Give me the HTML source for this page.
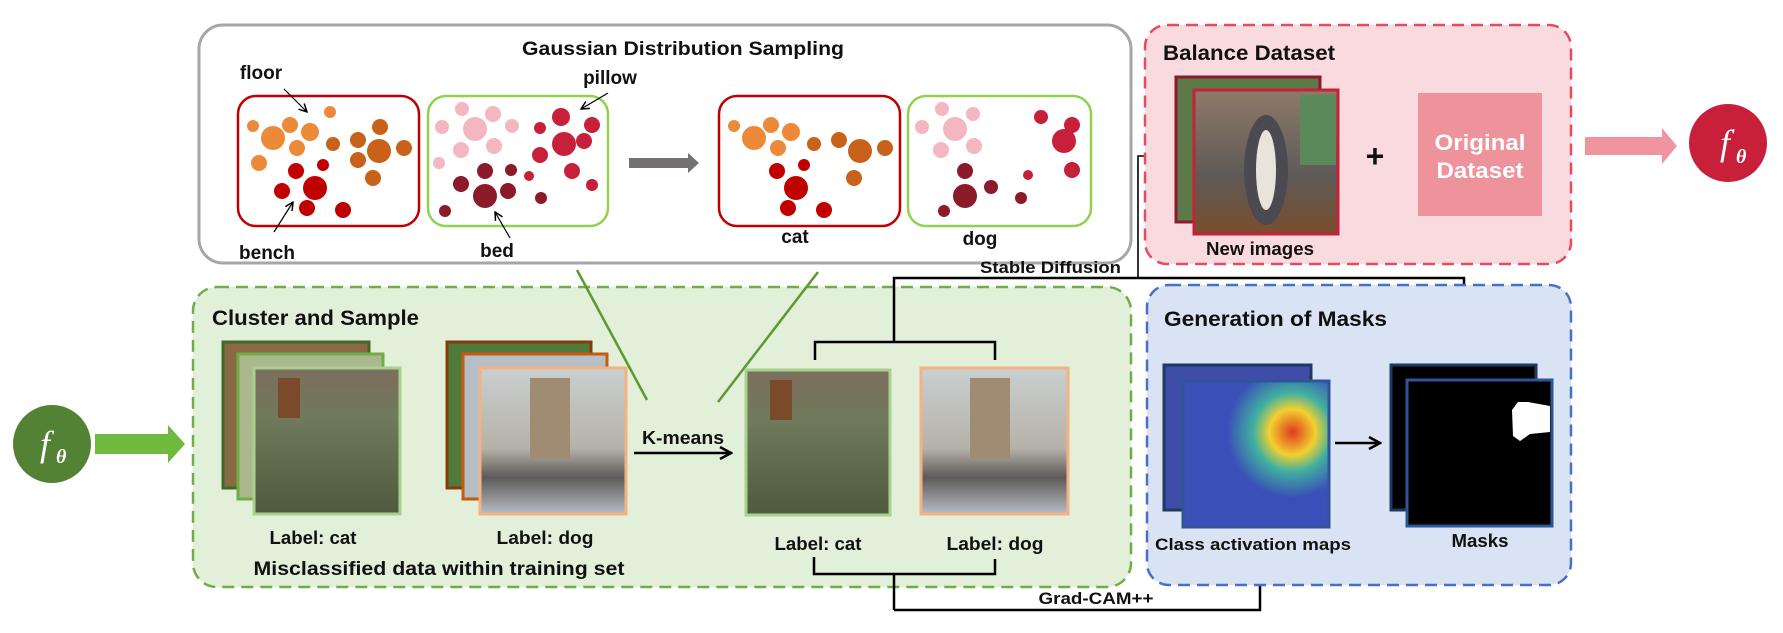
<!DOCTYPE html>
<html><head><meta charset="utf-8"><style>
html,body{margin:0;padding:0;background:#fff;}
svg{display:block;}
text{font-family:"Liberation Sans",Arial,sans-serif;font-weight:bold;fill:#111;}
</style></head><body>
<svg width="1783" height="633" viewBox="0 0 1783 633" xmlns="http://www.w3.org/2000/svg">
<defs>
<marker id="ah" markerWidth="10" markerHeight="10" refX="9" refY="5" orient="auto" markerUnits="userSpaceOnUse"><path d="M1,1 L9,5 L1,9" fill="none" stroke="#000" stroke-width="1.5"/></marker>
<marker id="ah2" markerWidth="14" markerHeight="14" refX="12" refY="7" orient="auto" markerUnits="userSpaceOnUse"><path d="M1,1 L12,7 L1,13" fill="none" stroke="#000" stroke-width="2.5"/></marker>
<linearGradient id="gcat" x1="0" y1="0" x2="0" y2="1"><stop offset="0" stop-color="#7d6e5e"/><stop offset="0.35" stop-color="#6f7a5a"/><stop offset="1" stop-color="#4f5a3e"/></linearGradient>
<linearGradient id="gbed" x1="0" y1="0" x2="0" y2="1"><stop offset="0" stop-color="#c9cfd0"/><stop offset="0.55" stop-color="#b6b2a8"/><stop offset="0.75" stop-color="#5d5a58"/><stop offset="1" stop-color="#b9bcc4"/></linearGradient>
<linearGradient id="gnew" x1="0" y1="0" x2="0" y2="1"><stop offset="0" stop-color="#8e7a68"/><stop offset="0.6" stop-color="#5e5a58"/><stop offset="1" stop-color="#7a4e2c"/></linearGradient>
<radialGradient id="gcam" cx="0.75" cy="0.35" r="0.45"><stop offset="0" stop-color="#e03a20"/><stop offset="0.35" stop-color="#f2d030"/><stop offset="0.6" stop-color="#40b0a0"/><stop offset="1" stop-color="#3a4fb8"/></radialGradient>
</defs>

<rect x="199" y="25" width="932" height="238" rx="24" fill="#fff" stroke="#a6a6a6" stroke-width="3"/>
<text x="683" y="55" font-size="19" text-anchor="middle" textLength="322" lengthAdjust="spacingAndGlyphs">Gaussian Distribution Sampling</text>
<rect x="238" y="96" width="181" height="130" rx="18" fill="#fff" stroke="#c00000" stroke-width="2.5"/>
<rect x="428" y="96" width="180" height="130" rx="18" fill="#fff" stroke="#92d050" stroke-width="2.5"/>
<rect x="719" y="96" width="181" height="130" rx="18" fill="#fff" stroke="#c00000" stroke-width="2.5"/>
<rect x="908" y="96" width="183" height="130" rx="18" fill="#fff" stroke="#92d050" stroke-width="2.5"/>
<polygon points="629,158 688,158 688,153 699,163 688,173 688,168 629,168" fill="#767171"/>

<g>
<g fill="#ed8a3a"><circle cx="253" cy="126" r="6"/><circle cx="273" cy="138" r="12"/><circle cx="290" cy="125" r="8"/><circle cx="310" cy="132" r="9"/><circle cx="297" cy="148" r="8"/><circle cx="259" cy="163" r="8"/><circle cx="330" cy="112" r="6"/></g>
<g fill="#c8621a"><circle cx="333" cy="144" r="7"/><circle cx="358" cy="140" r="8"/><circle cx="380" cy="127" r="8"/><circle cx="379" cy="151" r="12"/><circle cx="404" cy="148" r="8"/><circle cx="358" cy="160" r="8"/><circle cx="373" cy="178" r="8"/></g>
<g fill="#c00000"><circle cx="296" cy="171" r="8"/><circle cx="323" cy="165" r="6"/><circle cx="315" cy="188" r="12"/><circle cx="282" cy="191" r="8"/><circle cx="307" cy="208" r="8"/><circle cx="343" cy="210" r="8"/></g>
</g>
<g transform="translate(481,0)">
<g fill="#ed8a3a"><circle cx="253" cy="126" r="6"/><circle cx="273" cy="138" r="12"/><circle cx="290" cy="125" r="8"/><circle cx="310" cy="132" r="9"/><circle cx="297" cy="148" r="8"/></g>
<g fill="#c8621a"><circle cx="333" cy="144" r="7"/><circle cx="358" cy="140" r="8"/><circle cx="379" cy="151" r="12"/><circle cx="404" cy="148" r="8"/><circle cx="373" cy="178" r="8"/></g>
<g fill="#c00000"><circle cx="296" cy="171" r="8"/><circle cx="323" cy="165" r="6"/><circle cx="315" cy="188" r="12"/><circle cx="307" cy="208" r="8"/><circle cx="343" cy="210" r="8"/></g>
</g>
<g>
<g fill="#f4b6c0"><circle cx="462" cy="109" r="7"/><circle cx="442" cy="127" r="7"/><circle cx="475" cy="129" r="12"/><circle cx="493" cy="114" r="8"/><circle cx="512" cy="126" r="7"/><circle cx="461" cy="150" r="8"/><circle cx="494" cy="146" r="8"/><circle cx="439" cy="163" r="6"/></g>
<g fill="#c8203a"><circle cx="561" cy="117" r="9"/><circle cx="592" cy="125" r="8"/><circle cx="540" cy="128" r="6"/><circle cx="564" cy="144" r="12"/><circle cx="584" cy="141" r="8"/><circle cx="540" cy="155" r="8"/><circle cx="572" cy="171" r="8"/><circle cx="529" cy="176" r="5"/><circle cx="592" cy="185" r="6"/></g>
<g fill="#8b1a2a"><circle cx="485" cy="171" r="8"/><circle cx="511" cy="170" r="6"/><circle cx="461" cy="184" r="8"/><circle cx="485" cy="196" r="12"/><circle cx="508" cy="191" r="8"/><circle cx="541" cy="198" r="6"/><circle cx="445" cy="211" r="6"/></g>
</g>
<g transform="translate(480,0)">
<g fill="#f4b6c0"><circle cx="462" cy="109" r="7"/><circle cx="442" cy="127" r="7"/><circle cx="475" cy="129" r="12"/><circle cx="493" cy="114" r="7"/><circle cx="461" cy="150" r="8"/><circle cx="494" cy="146" r="8"/></g>
<g fill="#c8203a"><circle cx="561" cy="117" r="7"/><circle cx="592" cy="125" r="8"/><circle cx="584" cy="141" r="12"/><circle cx="592" cy="170" r="8"/><circle cx="548" cy="175" r="5"/></g>
<g fill="#8b1a2a"><circle cx="485" cy="171" r="8"/><circle cx="511" cy="187" r="7"/><circle cx="485" cy="196" r="12"/><circle cx="541" cy="198" r="6"/><circle cx="464" cy="211" r="6"/></g>
</g>

<g stroke="#000" stroke-width="1.2" fill="none" marker-end="url(#ah)">
<line x1="284" y1="89" x2="307" y2="112"/>
<line x1="608" y1="93" x2="581" y2="109"/>
<line x1="274" y1="232" x2="293" y2="202"/>
<line x1="510" y1="238" x2="495" y2="212"/>
</g>
<text x="261" y="79" font-size="19" text-anchor="middle">floor</text>
<text x="610" y="84" font-size="19" text-anchor="middle">pillow</text>
<text x="267" y="259" font-size="19" text-anchor="middle">bench</text>
<text x="497" y="257" font-size="19" text-anchor="middle">bed</text>
<text x="795" y="243" font-size="19" text-anchor="middle">cat</text>
<text x="980" y="245" font-size="19" text-anchor="middle">dog</text>

<rect x="193" y="287" width="938" height="300" rx="24" fill="#e2efd9" stroke="#70ad47" stroke-width="2.5" stroke-dasharray="12,7"/>
<text x="212" y="325" font-size="21" textLength="207" lengthAdjust="spacingAndGlyphs">Cluster and Sample</text>

<rect x="223" y="342" width="146" height="146" fill="#8a6a44" stroke="#3f6a28" stroke-width="3"/>
<rect x="238" y="354" width="145" height="145" fill="#aab88e" stroke="#70ad47" stroke-width="3"/>
<rect x="254" y="368" width="146" height="146" fill="url(#gcat)" stroke="#a9d18e" stroke-width="3"/>
<rect x="447" y="342" width="144" height="146" fill="#4f7a3a" stroke="#843c0c" stroke-width="3"/>
<rect x="463" y="354" width="144" height="145" fill="#b7bfc6" stroke="#c55a11" stroke-width="3"/>
<rect x="480" y="368" width="146" height="146" fill="url(#gbed)" stroke="#f4b183" stroke-width="3"/>
<rect x="530" y="378" width="40" height="80" fill="#a08c72"/>
<rect x="278" y="378" width="22" height="40" fill="#7a4a2a"/>
<text x="313" y="544" font-size="18" text-anchor="middle" textLength="87" lengthAdjust="spacingAndGlyphs">Label: cat</text>
<text x="545" y="544" font-size="18" text-anchor="middle" textLength="97" lengthAdjust="spacingAndGlyphs">Label: dog</text>
<text x="439" y="575" font-size="19" text-anchor="middle" textLength="371" lengthAdjust="spacingAndGlyphs">Misclassified data within training set</text>

<line x1="577" y1="270" x2="647" y2="400" stroke="#5a9a30" stroke-width="2.5"/>
<line x1="818" y1="272" x2="718" y2="402" stroke="#5a9a30" stroke-width="2.5"/>
<text x="683" y="444" font-size="18" text-anchor="middle" textLength="82" lengthAdjust="spacingAndGlyphs">K-means</text>
<line x1="634" y1="453" x2="731" y2="453" stroke="#000" stroke-width="2.5" marker-end="url(#ah2)"/>

<rect x="746" y="370" width="144" height="145" fill="url(#gcat)" stroke="#a9d18e" stroke-width="3"/>
<rect x="770" y="380" width="22" height="40" fill="#7a4a2a"/>
<rect x="921" y="368" width="147" height="146" fill="url(#gbed)" stroke="#f4b183" stroke-width="3"/>
<rect x="970" y="378" width="40" height="80" fill="#a08c72"/>
<text x="818" y="550" font-size="18" text-anchor="middle" textLength="87" lengthAdjust="spacingAndGlyphs">Label: cat</text>
<text x="995" y="550" font-size="18" text-anchor="middle" textLength="97" lengthAdjust="spacingAndGlyphs">Label: dog</text>

<g fill="none" stroke="#000" stroke-width="2.5">
<polyline points="815,360 815,342 995,342 995,360"/>
<polyline points="894,342 894,278 1464,278 1464,352"/>
<polyline points="814,557 814,574 995,574 995,559"/>
<line x1="894" y1="574" x2="894" y2="610"/>
<polyline points="894,610 1260,610 1260,562" marker-end="url(#ah)"/>
</g>
<polyline points="1138,277 1138,156 1166,156" fill="none" stroke="#000" stroke-width="1.6" marker-end="url(#ah)"/>
<text x="980" y="273" font-size="17" textLength="141" lengthAdjust="spacingAndGlyphs">Stable Diffusion</text>
<text x="1096" y="604" font-size="17" text-anchor="middle" textLength="115" lengthAdjust="spacingAndGlyphs">Grad-CAM++</text>

<rect x="1145" y="25" width="426" height="239" rx="22" fill="#f9dadf" stroke="#e84a5f" stroke-width="2.5" stroke-dasharray="12,7"/>
<text x="1163" y="60" font-size="21" textLength="172" lengthAdjust="spacingAndGlyphs">Balance Dataset</text>
<rect x="1176" y="77" width="144" height="145" fill="#5b7a48" stroke="#8b1a2a" stroke-width="3"/>
<rect x="1194" y="90" width="144" height="144" fill="url(#gnew)" stroke="#c8203a" stroke-width="3"/>
<ellipse cx="1266" cy="170" rx="22" ry="55" fill="#4a4a50"/>
<ellipse cx="1266" cy="170" rx="10" ry="40" fill="#e8e4dc"/>
<rect x="1300" y="95" width="36" height="70" fill="#5a8a5a"/>
<text x="1260" y="255" font-size="18" text-anchor="middle" textLength="108" lengthAdjust="spacingAndGlyphs">New images</text>
<text x="1375" y="167" font-size="32" text-anchor="middle">+</text>
<rect x="1418" y="93" width="124" height="123" fill="#ee929b"/>
<text x="1480" y="150" font-size="22" text-anchor="middle" style="fill:#fff" textLength="91" lengthAdjust="spacingAndGlyphs">Original</text>
<text x="1480" y="178" font-size="22" text-anchor="middle" style="fill:#fff" textLength="87" lengthAdjust="spacingAndGlyphs">Dataset</text>
<polygon points="1585,137 1662,137 1662,128 1677,146 1662,164 1662,155 1585,155" fill="#f0959f"/>
<circle cx="1728" cy="143" r="39" fill="#c8203a"/>
<text x="1720" y="155" font-size="36" style="fill:#fff;font-family:'Liberation Serif',serif;font-style:italic;font-weight:normal">f</text>
<text x="1732" y="141" font-size="18" style="fill:#fff;font-family:'Liberation Serif',serif;font-weight:normal">'</text>
<text x="1736" y="163" font-size="20" style="fill:#fff;font-family:'Liberation Serif',serif;font-style:italic">θ</text>

<rect x="1147" y="285" width="424" height="300" rx="22" fill="#dae3f3" stroke="#4472c4" stroke-width="2.5" stroke-dasharray="12,7"/>
<text x="1164" y="326" font-size="21" textLength="223" lengthAdjust="spacingAndGlyphs">Generation of Masks</text>
<rect x="1164" y="365" width="147" height="145" fill="#3e4ea8" stroke="#1f3864" stroke-width="3"/>
<rect x="1183" y="381" width="146" height="146" fill="url(#gcam)" stroke="#2f5597" stroke-width="3"/>
<line x1="1335" y1="443" x2="1380" y2="443" stroke="#000" stroke-width="2.5" marker-end="url(#ah2)"/>
<rect x="1391" y="365" width="145" height="145" fill="#000" stroke="#1f3864" stroke-width="3"/>
<rect x="1407" y="380" width="145" height="146" fill="#000" stroke="#2f5597" stroke-width="3"/>
<path d="M1518,402 L1528,402 L1550,406 L1550,432 L1530,434 L1520,441 L1513,436 L1512,410 Z" fill="#fff"/>
<text x="1253" y="550" font-size="17" text-anchor="middle" textLength="196" lengthAdjust="spacingAndGlyphs">Class activation maps</text>
<text x="1480" y="547" font-size="18" text-anchor="middle" textLength="57" lengthAdjust="spacingAndGlyphs">Masks</text>

<circle cx="52" cy="444" r="39" fill="#548235"/>
<text x="40" y="456" font-size="36" style="fill:#fff;font-family:'Liberation Serif',serif;font-style:italic;font-weight:normal">f</text>
<text x="56" y="463" font-size="20" style="fill:#fff;font-family:'Liberation Serif',serif;font-style:italic">θ</text>
<polygon points="95,434 168,434 168,425 185,444 168,463 168,454 95,454" fill="#70b93f"/>
</svg>
</body></html>
